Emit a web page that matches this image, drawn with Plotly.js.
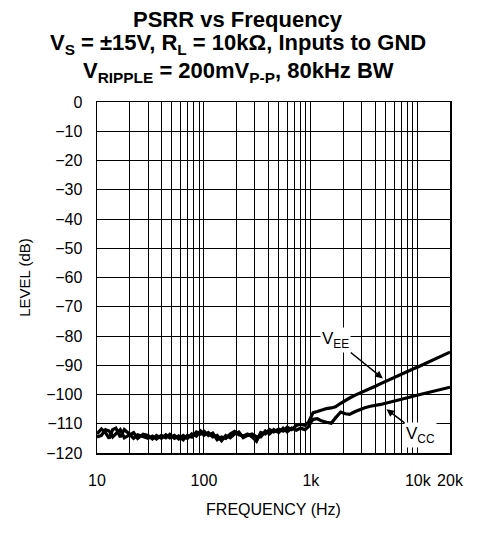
<!DOCTYPE html>
<html>
<head>
<meta charset="utf-8">
<script src="https://cdn.plot.ly/plotly-3.0.1.min.js"></script>
<style>html,body{margin:0;padding:0;background:#fff;}#chart{width:477px;height:536px;}</style>
</head>
<body>
<div id="chart"></div>
<script>
// Frequency points (Hz)
const freq = [10, 11, 12, 13, 14, 15, 16.5, 18, 20, 22, 24, 27, 30, 33, 36, 40, 44, 48, 53, 58, 64, 70, 77, 85, 93,
  100, 110, 121, 133, 146, 160, 176, 193, 212, 233, 256, 282, 310, 340, 375, 410, 450, 500, 550, 600, 660, 730, 800, 880, 950,
  1000, 1050, 1150, 1250, 1400, 1550, 1700, 1900, 2100, 2300, 2600, 2900, 3200, 3600, 4000, 4500, 5000, 5600, 6300, 7000, 8000, 9000,
  10000, 11000, 12500, 14000, 16000, 18000, 20000];

// V_EE PSRR (dB)
const vee = [-113.5, -111.8, -113, -115, -112, -111.5, -114.5, -112, -113.5, -115, -113.8, -114.5, -115, -114.2, -115.2, -114, -114.8, -113.6, -115, -114.2, -115.5, -114, -114.6, -112.8, -113.5,
  -112.5, -114, -113.2, -115.5, -114.5, -115, -113.5, -112.6, -113.8, -114.2, -113.5, -114.5, -116, -113, -113.5, -112, -112.8, -111.8, -112.5, -111.2, -112, -110.6, -110.2, -110.5, -109.5,
  -108, -106.2, -105.8, -105.3, -104.8, -104.6, -104.2, -103, -102, -101.2, -100.2, -99.5, -98.8, -98, -97.2, -96.3, -95.5, -94.7, -93.8, -93, -92, -91.3,
  -90.6, -89.9, -89, -88.1, -87.1, -86.3, -85.5];

// V_CC PSRR (dB)
const vcc = [-114.5, -114, -112, -112.5, -114.5, -113.5, -112, -114.8, -114, -113, -115, -113.6, -114, -115.2, -114, -115, -113.8, -114.8, -114, -115.2, -114, -115, -113.5, -114.2, -112.5,
  -114, -113, -114.5, -114, -115.8, -114, -114.8, -113.5, -112.8, -114.8, -114, -113.5, -114.5, -114.5, -112.5, -113.5, -112, -113, -111.5, -112.8, -111.5, -112.2, -111.5, -112, -111,
  -109.5, -108.5, -108.3, -109, -109.5, -109.8, -108, -106, -106.6, -106.8, -105.8, -105, -104.5, -104, -103.8, -103.4, -103, -102.6, -102.2, -101.6, -101.1, -100.6,
  -100.2, -99.8, -99.2, -98.8, -98.4, -98, -97.5];

// Axis ticks
const xTickVals = [10,20,30,40,50,60,70,80,90,100,200,300,400,500,600,700,800,900,1000,2000,3000,4000,5000,6000,7000,8000,9000,10000,20000];
const xTickText = ["10","","","","","","","","","100","","","","","","","","","1k","","","","","","","","","10k","20k"];
const yTickVals = [0,-10,-20,-30,-40,-50,-60,-70,-80,-90,-100,-110,-120];

// Title lines
const titleLines = [
  'PSRR vs Frequency',
  'V<sub>S</sub> = ±15V, R<sub>L</sub> = 10kΩ, Inputs to GND',
  'V<sub>RIPPLE</sub> = 200mV<sub>P-P</sub>, 80kHz BW'
];

const FONT = "Liberation Sans, Arial, Helvetica, sans-serif";

const traces = [
  {x: freq, y: vcc, type: 'scatter', mode: 'lines', line: {color: '#000', width: 3.2}, name: 'VCC', hoverinfo: 'skip'},
  {x: freq, y: vee, type: 'scatter', mode: 'lines', line: {color: '#000', width: 3.2}, name: 'VEE', hoverinfo: 'skip'}
];

// paper y for a pixel row (plot area top 102, bottom 453)
const py = p => (453 - p) / 351;
const titleY = [19, 44, 72];

const annotations = titleLines.map((t, i) => ({
  xref: 'paper', yref: 'paper', x: (238 - 97) / 353, y: py(titleY[i]),
  xanchor: 'center', yanchor: 'middle', showarrow: false,
  text: '<b>' + t + '</b>', font: {family: FONT, size: 22, color: '#000'}
}));

annotations.push(
  {x: Math.log10(4700), y: -94.5, xref: 'x', yref: 'y', text: 'V<sub>EE</sub>', showarrow: true,
   arrowhead: 2, arrowsize: 1, arrowwidth: 1.5, arrowcolor: '#000', ax: -47, ay: -38,
   font: {family: FONT, size: 17, color: '#000'}, bgcolor: '#fff'},
  {x: Math.log10(5100), y: -105, xref: 'x', yref: 'y', text: 'V<sub>CC</sub>', showarrow: true,
   arrowhead: 2, arrowsize: 1, arrowwidth: 1.5, arrowcolor: '#000', ax: 34, ay: 26,
   font: {family: FONT, size: 17, color: '#000'}, bgcolor: '#fff'}
);

const layout = {
  width: 477, height: 536,
  margin: {l: 97, r: 27, t: 102, b: 83},
  paper_bgcolor: '#fff', plot_bgcolor: '#fff',
  showlegend: false,
  font: {family: FONT, color: '#000', size: 16},
  xaxis: {
    type: 'log', range: [1, Math.log10(20000)],
    tickvals: xTickVals, ticktext: xTickText,
    showgrid: true, gridcolor: '#000', gridwidth: 1,
    showline: true, linecolor: '#000', linewidth: 1.5, mirror: true,
    ticks: '', ticklabelstandoff: 12,
    tickfont: {family: FONT, size: 16, color: '#000'},
    title: {text: 'FREQUENCY (Hz)', font: {family: FONT, size: 16, color: '#000'}, standoff: 16},
    zeroline: false
  },
  yaxis: {
    range: [-120, 0], tickvals: yTickVals,
    showgrid: true, gridcolor: '#000', gridwidth: 1,
    showline: true, linecolor: '#000', linewidth: 1.5, mirror: true,
    ticks: '', ticklabelstandoff: 10,
    tickfont: {family: FONT, size: 16, color: '#000'},
    title: {text: 'LEVEL (dB)', font: {family: FONT, size: 15, color: '#000'}, standoff: 12},
    zeroline: false
  },
  annotations: annotations
};

Plotly.newPlot('chart', traces, layout, {displayModeBar: false, staticPlot: true});
</script>
</body>
</html>
